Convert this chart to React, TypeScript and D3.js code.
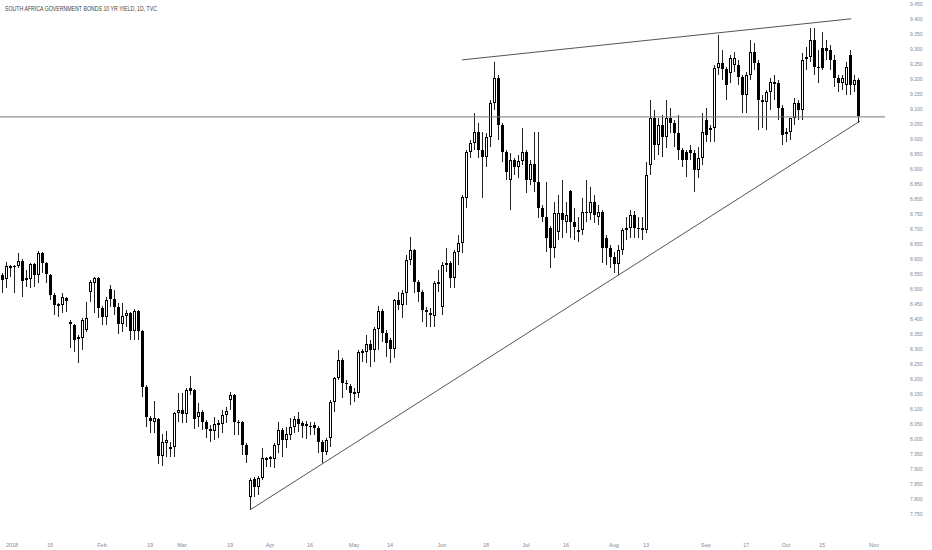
import * as d3 from "d3";

const title = "SOUTH AFRICA GOVERNMENT BONDS 10 YR YIELD, 1D, TVC";

// daily OHLC (first bar = 28 Dec 2017)
const open = [
  8.550, 8.537, 8.577, 8.580, 8.580, 8.597, 8.534, 8.537, 8.587, 8.550,
  8.624, 8.590, 8.550, 8.484, 8.454, 8.450, 8.474, 8.394, 8.384, 8.337,
  8.340, 8.367, 8.494, 8.524, 8.540, 8.440, 8.410, 8.504, 8.470, 8.444,
  8.387, 8.414, 8.424, 8.364, 8.430, 8.364, 8.177, 8.074, 8.060, 8.070,
  7.947, 7.990, 7.974, 7.977, 8.090, 8.100, 8.087, 8.174, 8.167, 8.077,
  8.094, 8.060, 8.037, 8.030, 8.050, 8.054, 8.084, 8.134, 8.150, 8.060,
  8.060, 7.984, 7.810, 7.870, 7.844, 7.874, 7.937, 7.940, 7.937, 7.984,
  8.034, 8.000, 8.017, 8.044, 8.070, 8.057, 8.054, 8.047, 8.050, 8.040,
  7.994, 7.960, 8.007, 8.127, 8.207, 8.267, 8.190, 8.180, 8.157, 8.157,
  8.297, 8.294, 8.320, 8.300, 8.370, 8.430, 8.357, 8.334, 8.304, 8.467,
  8.450, 8.490, 8.600, 8.634, 8.527, 8.494, 8.427, 8.424, 8.414, 8.524,
  8.444, 8.584, 8.590, 8.540, 8.627, 8.657, 8.807, 8.960, 8.990, 9.027,
  8.967, 8.944, 9.010, 9.124, 9.207, 9.050, 8.960, 8.867, 8.934, 8.910,
  8.930, 8.960, 8.867, 8.920, 8.860, 8.774, 8.744, 8.707, 8.640, 8.694,
  8.757, 8.727, 8.830, 8.727, 8.694, 8.700, 8.760, 8.757, 8.794, 8.744,
  8.760, 8.674, 8.640, 8.610, 8.587, 8.634, 8.700, 8.707, 8.750, 8.707,
  8.707, 8.700, 8.917, 9.074, 8.984, 9.050, 9.010, 9.074, 9.057, 9.024,
  8.967, 8.960, 8.967, 8.957, 8.900, 8.940, 9.067, 9.034, 9.040, 9.240,
  9.257, 9.237, 9.224, 9.250, 9.250, 9.210, 9.150, 9.217, 9.294, 9.257,
  9.134, 9.127, 9.160, 9.187, 9.190, 9.107, 9.020, 9.027, 9.074, 9.124,
  9.100, 9.270, 9.277, 9.334, 9.244, 9.307, 9.307, 9.300, 9.267, 9.207,
  9.190, 9.184, 9.284, 9.184, 9.200,
];
const high = [
  8.557, 8.594, 8.584, 8.584, 8.624, 8.604, 8.567, 8.590, 8.590, 8.630,
  8.627, 8.594, 8.554, 8.490, 8.457, 8.490, 8.477, 8.400, 8.387, 8.350,
  8.407, 8.460, 8.534, 8.544, 8.544, 8.447, 8.477, 8.517, 8.500, 8.457,
  8.457, 8.434, 8.427, 8.437, 8.434, 8.367, 8.184, 8.080, 8.130, 8.074,
  8.020, 8.030, 7.994, 8.094, 8.157, 8.157, 8.174, 8.214, 8.170, 8.124,
  8.100, 8.067, 8.050, 8.077, 8.067, 8.100, 8.110, 8.160, 8.154, 8.067,
  8.064, 7.990, 7.874, 7.877, 7.880, 7.974, 7.944, 7.947, 7.990, 8.060,
  8.040, 8.044, 8.074, 8.080, 8.094, 8.064, 8.064, 8.060, 8.060, 8.047,
  8.000, 8.007, 8.134, 8.210, 8.300, 8.274, 8.200, 8.187, 8.174, 8.300,
  8.304, 8.350, 8.334, 8.377, 8.447, 8.437, 8.367, 8.340, 8.470, 8.494,
  8.500, 8.617, 8.677, 8.637, 8.534, 8.500, 8.444, 8.440, 8.530, 8.567,
  8.594, 8.640, 8.597, 8.634, 8.684, 8.817, 8.967, 9.000, 9.090, 9.057,
  9.027, 9.024, 9.134, 9.260, 9.217, 9.057, 8.967, 8.957, 8.940, 8.950,
  9.040, 8.967, 8.934, 9.027, 9.027, 8.784, 8.860, 8.714, 8.794, 8.817,
  8.867, 8.794, 8.834, 8.774, 8.744, 8.807, 8.867, 8.844, 8.817, 8.784,
  8.767, 8.684, 8.650, 8.627, 8.650, 8.707, 8.744, 8.767, 8.764, 8.744,
  8.744, 8.927, 9.134, 9.100, 9.074, 9.084, 9.134, 9.107, 9.067, 9.084,
  8.974, 8.967, 8.984, 8.967, 8.977, 9.090, 9.107, 9.050, 9.250, 9.350,
  9.300, 9.244, 9.284, 9.294, 9.267, 9.217, 9.227, 9.334, 9.324, 9.267,
  9.150, 9.167, 9.207, 9.217, 9.200, 9.117, 9.040, 9.067, 9.140, 9.134,
  9.290, 9.310, 9.374, 9.374, 9.300, 9.360, 9.334, 9.317, 9.284, 9.217,
  9.217, 9.260, 9.300, 9.217, 9.207,
];
const low = [
  8.490, 8.507, 8.544, 8.490, 8.574, 8.477, 8.510, 8.507, 8.510, 8.524,
  8.557, 8.524, 8.467, 8.417, 8.410, 8.424, 8.427, 8.307, 8.294, 8.257,
  8.300, 8.360, 8.460, 8.424, 8.407, 8.384, 8.384, 8.444, 8.417, 8.354,
  8.360, 8.377, 8.334, 8.334, 8.334, 8.144, 8.044, 8.024, 8.024, 7.920,
  7.914, 7.944, 7.944, 7.944, 8.060, 8.057, 8.057, 8.150, 8.037, 8.044,
  8.034, 8.007, 7.994, 8.000, 8.007, 8.024, 8.057, 8.100, 8.017, 8.017,
  7.950, 7.924, 7.767, 7.810, 7.817, 7.867, 7.910, 7.910, 7.907, 7.957,
  7.944, 7.974, 8.000, 8.024, 8.027, 8.007, 8.004, 8.017, 8.017, 7.957,
  7.924, 7.950, 7.977, 8.094, 8.200, 8.140, 8.167, 8.117, 8.127, 8.140,
  8.260, 8.257, 8.244, 8.260, 8.300, 8.327, 8.277, 8.257, 8.274, 8.434,
  8.407, 8.450, 8.584, 8.490, 8.460, 8.394, 8.377, 8.377, 8.377, 8.494,
  8.417, 8.560, 8.507, 8.507, 8.584, 8.624, 8.774, 8.940, 8.967, 8.940,
  8.807, 8.910, 8.977, 9.100, 9.000, 8.927, 8.867, 8.767, 8.884, 8.874,
  8.917, 8.824, 8.850, 8.827, 8.740, 8.727, 8.627, 8.574, 8.607, 8.667,
  8.674, 8.690, 8.674, 8.667, 8.660, 8.684, 8.727, 8.734, 8.724, 8.717,
  8.590, 8.584, 8.574, 8.557, 8.550, 8.617, 8.667, 8.674, 8.674, 8.674,
  8.667, 8.690, 8.884, 8.934, 8.950, 8.944, 8.974, 9.024, 8.977, 8.934,
  8.910, 8.877, 8.934, 8.827, 8.874, 8.917, 8.994, 8.994, 8.994, 9.217,
  9.200, 9.134, 9.190, 9.227, 9.184, 9.090, 9.090, 9.200, 9.234, 9.034,
  9.040, 9.034, 9.100, 9.134, 9.067, 8.984, 8.994, 9.000, 9.050, 9.067,
  9.067, 9.234, 9.260, 9.217, 9.190, 9.234, 9.267, 9.234, 9.177, 9.160,
  9.167, 9.150, 9.150, 9.160, 9.057,
];
const close = [
  8.534, 8.580, 8.580, 8.577, 8.597, 8.530, 8.540, 8.587, 8.550, 8.624,
  8.590, 8.554, 8.484, 8.450, 8.447, 8.477, 8.464, 8.387, 8.334, 8.344,
  8.400, 8.407, 8.527, 8.540, 8.440, 8.410, 8.467, 8.470, 8.444, 8.387,
  8.414, 8.424, 8.364, 8.430, 8.364, 8.177, 8.077, 8.064, 8.074, 7.947,
  7.994, 8.000, 7.977, 8.090, 8.100, 8.087, 8.167, 8.164, 8.070, 8.094,
  8.060, 8.037, 8.030, 8.054, 8.057, 8.084, 8.097, 8.150, 8.060, 8.057,
  7.984, 7.950, 7.867, 7.844, 7.874, 7.940, 7.940, 7.942, 7.984, 8.034,
  8.000, 8.020, 8.044, 8.070, 8.054, 8.047, 8.047, 8.045, 8.040, 7.994,
  7.960, 8.000, 8.127, 8.207, 8.267, 8.190, 8.187, 8.157, 8.160, 8.294,
  8.290, 8.320, 8.300, 8.370, 8.430, 8.357, 8.324, 8.304, 8.467, 8.450,
  8.490, 8.600, 8.634, 8.527, 8.494, 8.434, 8.434, 8.417, 8.524, 8.527,
  8.584, 8.590, 8.540, 8.627, 8.657, 8.810, 8.960, 8.990, 9.027, 8.967,
  8.944, 9.010, 9.124, 9.207, 9.050, 8.960, 8.894, 8.934, 8.910, 8.930,
  8.960, 8.867, 8.920, 8.860, 8.774, 8.744, 8.674, 8.640, 8.757, 8.757,
  8.734, 8.750, 8.727, 8.710, 8.700, 8.760, 8.757, 8.794, 8.750, 8.760,
  8.640, 8.640, 8.610, 8.587, 8.634, 8.700, 8.707, 8.750, 8.707, 8.704,
  8.700, 8.884, 9.074, 8.984, 9.050, 9.010, 9.074, 9.057, 9.024, 8.967,
  8.934, 8.934, 8.957, 8.900, 8.940, 9.027, 9.017, 9.040, 9.240, 9.257,
  9.237, 9.184, 9.274, 9.274, 9.210, 9.150, 9.217, 9.294, 9.257, 9.134,
  9.127, 9.160, 9.194, 9.194, 9.107, 9.017, 9.027, 9.074, 9.124, 9.100,
  9.267, 9.277, 9.334, 9.244, 9.240, 9.240, 9.297, 9.267, 9.207, 9.190,
  9.207, 9.244, 9.184, 9.200, 9.080,
];

// time axis labels and the bar they sit on
const timeLabels = ["2018", "15", "Feb", "19", "Mar", "19", "Apr", "16", "May", "14", "Jun",
  "18", "Jul", "16", "Aug", "13", "Sep", "17", "Oct", "15", "Nov"];
const timeLabelBars = [2.5, 12, 25, 37, 45, 57, 67, 77, 88, 97, 110, 121, 131, 141, 153, 161, 176, 186, 196, 205, 218];

const priceTicks = [
  7.75, 7.8, 7.85, 7.9, 7.95, 8.0, 8.05, 8.1, 8.15, 8.2, 8.25, 8.3, 8.35, 8.4, 8.45, 8.5, 8.55,
  8.6, 8.65, 8.7, 8.75, 8.8, 8.85, 8.9, 8.95, 9.0, 9.05, 9.1, 9.15, 9.2, 9.25, 9.3, 9.35, 9.4, 9.45,
];

// drawings: horizontal level and two trend lines (bar index, yield)
const horizontalLevel = 9.077;
const upperTrend = [[115, 9.267], [212.3, 9.404]];
const lowerTrend = [[62, 7.767], [214.5, 9.063]];

const width = 932;
const height = 550;

export default function App() {
  const x = d3.scaleLinear([0, 214], [2, 858]);
  const y = d3.scaleLinear([7.75, 9.45], [515, 5]);

  const line = d3.line<number[]>()
    .x(d => x(d[0]))
    .y(d => y(d[1]));

  const font = "'Liberation Sans', Arial, sans-serif";

  return (
    <svg width={width} height={height} style={{ position: "absolute", left: 0, top: 0, background: "#fff" }}>
      <text x={5} y={10.5} fontFamily={font} fontSize={6.5} fill="#444" textLength={152} lengthAdjust="spacingAndGlyphs">
        {title}
      </text>

      <g shapeRendering="crispEdges">
        {open.map((o, i) => {
          const c = close[i];
          const cx = Math.round(x(i));
          const top = Math.round(y(Math.max(o, c)));
          const bot = Math.max(top + 1, Math.round(y(Math.min(o, c))));
          const up = c >= o;
          return (
            <g key={i}>
              <line x1={cx + 0.5} x2={cx + 0.5} y1={Math.round(y(high[i]))} y2={Math.round(y(low[i]))} stroke="#222" strokeWidth={1} />
              {up ? (
                <rect x={cx - 0.5} y={top + 0.5} width={2} height={Math.max(1, bot - top - 1)} fill="#fff" stroke="#000" strokeWidth={1} />
              ) : (
                <rect x={cx - 1} y={top} width={3} height={bot - top} fill="#000" />
              )}
            </g>
          );
        })}
      </g>

      <line x1={0} x2={885} y1={y(horizontalLevel)} y2={y(horizontalLevel)} stroke="#777" strokeWidth={1} />
      <path d={line(upperTrend) ?? ""} fill="none" stroke="#555" strokeWidth={1} />
      <path d={line(lowerTrend) ?? ""} fill="none" stroke="#555" strokeWidth={1} />

      <g fontFamily={font} fontSize={5} fill="#888">
        {priceTicks.map(t => (
          <text key={t} x={910} y={y(t)} dominantBaseline="middle">{d3.format(".3f")(t)}</text>
        ))}
      </g>

      <g fontFamily={font} fontSize={5.5} fill="#888" textAnchor="middle">
        {timeLabels.map((t, i) => (
          <text key={i} x={x(timeLabelBars[i])} y={547}>{t}</text>
        ))}
      </g>
    </svg>
  );
}
